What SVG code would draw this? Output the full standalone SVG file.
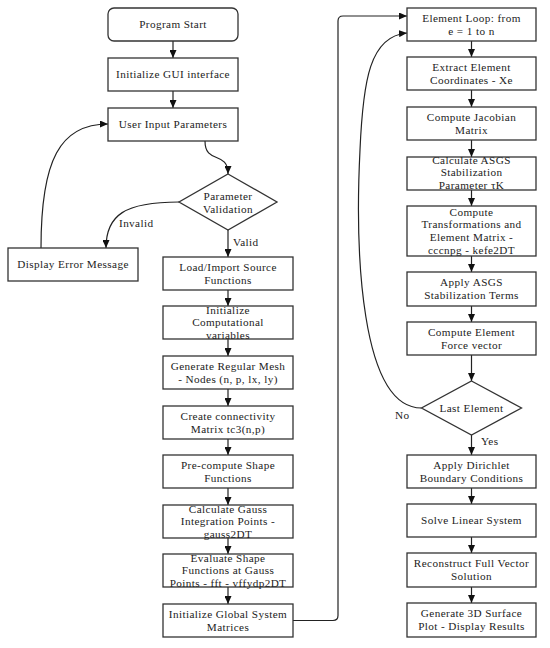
<svg xmlns="http://www.w3.org/2000/svg" width="550" height="648" viewBox="0 0 550 648">
<style>
.box{fill:#fff;stroke:#333;stroke-width:1.3}
.t{font-family:"Liberation Serif","Times New Roman",serif;font-size:11.2px;letter-spacing:0.4px;fill:#222;text-anchor:middle}
.lbl{font-family:"Liberation Serif","Times New Roman",serif;font-size:11.2px;letter-spacing:0.4px;fill:#222}
.c{fill:none;stroke:#222;stroke-width:1.2}
</style>
<defs>
<marker id="ah" markerWidth="8" markerHeight="7" refX="8" refY="3.5" orient="auto" markerUnits="userSpaceOnUse">
<path d="M0,0 L8,3.5 L0,7 z" fill="#111"/>
</marker>
</defs>
<rect width="550" height="648" fill="#fff"/>
<g id="connectors">
<path class="c" marker-end="url(#ah)" d="M173 41 V58"/>
<path class="c" marker-end="url(#ah)" d="M173 91 V108"/>
<path class="c" marker-end="url(#ah)" d="M205 141 C205 165 228 150 228 174"/>
<path class="c" marker-end="url(#ah)" d="M179 202 C125 202 106 215 106 248"/>
<path class="c" marker-end="url(#ah)" d="M41 248 C41 160 60 124 108 124"/>
<path class="c" marker-end="url(#ah)" d="M228 230 V257"/>
<path class="c" marker-end="url(#ah)" d="M228 290 V306"/>
<path class="c" marker-end="url(#ah)" d="M228 339 V356"/>
<path class="c" marker-end="url(#ah)" d="M228 389 V406"/>
<path class="c" marker-end="url(#ah)" d="M228 439 V455"/>
<path class="c" marker-end="url(#ah)" d="M228 488 V505"/>
<path class="c" marker-end="url(#ah)" d="M228 538 V554"/>
<path class="c" marker-end="url(#ah)" d="M228 587 V604"/>
<path class="c" marker-end="url(#ah)" d="M293 620.5 H333 Q338 620.5 338 615.5 V21 Q338 16 343 16 H407"/>
<path class="c" marker-end="url(#ah)" d="M471.5 41 V57"/>
<path class="c" marker-end="url(#ah)" d="M471.5 90 V107"/>
<path class="c" marker-end="url(#ah)" d="M471.5 140 V157"/>
<path class="c" marker-end="url(#ah)" d="M471.5 190 V206"/>
<path class="c" marker-end="url(#ah)" d="M471.5 256 V272"/>
<path class="c" marker-end="url(#ah)" d="M471.5 306 V322"/>
<path class="c" marker-end="url(#ah)" d="M471.5 355 V381"/>
<path class="c" marker-end="url(#ah)" d="M471.5 435 V455"/>
<path class="c" marker-end="url(#ah)" d="M471.5 488 V504"/>
<path class="c" marker-end="url(#ah)" d="M471.5 537 V553"/>
<path class="c" marker-end="url(#ah)" d="M471.5 587 V603"/>
<path class="c" marker-end="url(#ah)" d="M421.5 408 C360 408 355 250 360 150 C363 80 370 36 407 33"/>
<text class="lbl" x="119" y="226.7">Invalid</text>
<text class="lbl" x="233" y="245.7">Valid</text>
<text class="lbl" x="481" y="444.7">Yes</text>
<text class="lbl" x="395" y="418.7">No</text>
</g>
<g id="start"><rect class="box" x="108" y="8" width="130" height="33" rx="6"/><text class="t" x="173" y="28.2">Program Start</text></g>
<g id="gui"><rect class="box" x="108" y="58" width="130" height="33"/><text class="t" x="173" y="78.2">Initialize GUI interface</text></g>
<g id="input"><rect class="box" x="108" y="108" width="130" height="33"/><text class="t" x="173" y="128.2">User Input Parameters</text></g>
<g id="validation"><polygon class="box" points="228,174 277,202 228,230 179,202"/><text class="t" x="228" y="199.7">Parameter</text><text class="t" x="228" y="212.7">Validation</text></g>
<g id="error"><rect class="box" x="8" y="248" width="130" height="33"/><text class="t" x="73" y="268.2">Display Error Message</text></g>
<g id="load"><rect class="box" x="163" y="257" width="130" height="33"/><text class="t" x="228" y="270.9">Load/Import Source</text><text class="t" x="228" y="283.5">Functions</text></g>
<g id="initcomp"><rect class="box" x="163" y="306" width="130" height="33"/><text class="t" x="228" y="313.6">Initialize</text><text class="t" x="228" y="326.2">Computational</text><text class="t" x="228" y="338.8">variables</text></g>
<g id="mesh"><rect class="box" x="163" y="356" width="130" height="33"/><text class="t" x="228" y="369.9">Generate Regular Mesh</text><text class="t" x="228" y="382.5">- Nodes (n, p, lx, ly)</text></g>
<g id="connect"><rect class="box" x="163" y="406" width="130" height="33"/><text class="t" x="228" y="419.9">Create connectivity</text><text class="t" x="228" y="432.5">Matrix tc3(n,p)</text></g>
<g id="precompute"><rect class="box" x="163" y="455" width="130" height="33"/><text class="t" x="228" y="468.9">Pre-compute Shape</text><text class="t" x="228" y="481.5">Functions</text></g>
<g id="gauss"><rect class="box" x="163" y="505" width="130" height="33"/><text class="t" x="228" y="512.6">Calculate Gauss</text><text class="t" x="228" y="525.2">Integration Points -</text><text class="t" x="228" y="537.8">gauss2DT</text></g>
<g id="evaluate"><rect class="box" x="163" y="554" width="130" height="33"/><text class="t" x="228" y="561.6">Evaluate Shape</text><text class="t" x="228" y="574.2">Functions at Gauss</text><text class="t" x="228" y="586.8">Points - fft - vffydp2DT</text></g>
<g id="global"><rect class="box" x="163" y="604" width="130" height="33"/><text class="t" x="228" y="617.9">Initialize Global System</text><text class="t" x="228" y="630.5">Matrices</text></g>
<g id="loop"><rect class="box" x="407" y="8" width="129" height="33"/><text class="t" x="471.5" y="21.9">Element Loop: from</text><text class="t" x="471.5" y="34.5">e =  1 to n</text></g>
<g id="extract"><rect class="box" x="407" y="57" width="129" height="33"/><text class="t" x="471.5" y="70.9">Extract Element</text><text class="t" x="471.5" y="83.5">Coordinates - Xe</text></g>
<g id="jacobian"><rect class="box" x="407" y="107" width="129" height="33"/><text class="t" x="471.5" y="120.9">Compute Jacobian</text><text class="t" x="471.5" y="133.5">Matrix</text></g>
<g id="asgsparam"><rect class="box" x="407" y="157" width="129" height="33"/><text class="t" x="471.5" y="163.6">Calculate ASGS</text><text class="t" x="471.5" y="176.2">Stabilization</text><text class="t" x="471.5" y="188.8">Parameter τK</text></g>
<g id="transform"><rect class="box" x="407" y="206" width="129" height="50"/><text class="t" x="471.5" y="215.8">Compute</text><text class="t" x="471.5" y="228.4">Transformations and</text><text class="t" x="471.5" y="241">Element Matrix -</text><text class="t" x="471.5" y="253.6">cccnpg - kefe2DT</text></g>
<g id="applyasgs"><rect class="box" x="407" y="272" width="129" height="34"/><text class="t" x="471.5" y="286.4">Apply ASGS</text><text class="t" x="471.5" y="299">Stabilization Terms</text></g>
<g id="force"><rect class="box" x="407" y="322" width="129" height="33"/><text class="t" x="471.5" y="335.9">Compute Element</text><text class="t" x="471.5" y="348.5">Force vector</text></g>
<g id="last"><polygon class="box" points="471.5,381 521.5,408 471.5,435 421.5,408"/><text class="t" x="471.5" y="411.7">Last Element</text></g>
<g id="dirichlet"><rect class="box" x="407" y="455" width="129" height="33"/><text class="t" x="471.5" y="468.9">Apply Dirichlet</text><text class="t" x="471.5" y="481.5">Boundary Conditions</text></g>
<g id="solve"><rect class="box" x="407" y="504" width="129" height="33"/><text class="t" x="471.5" y="524.2">Solve Linear System</text></g>
<g id="reconstruct"><rect class="box" x="407" y="553" width="129" height="34"/><text class="t" x="471.5" y="567.4">Reconstruct Full Vector</text><text class="t" x="471.5" y="580">Solution</text></g>
<g id="plot"><rect class="box" x="407" y="603" width="129" height="34"/><text class="t" x="471.5" y="617.4">Generate 3D Surface</text><text class="t" x="471.5" y="630">Plot - Display Results</text></g>
</svg>
